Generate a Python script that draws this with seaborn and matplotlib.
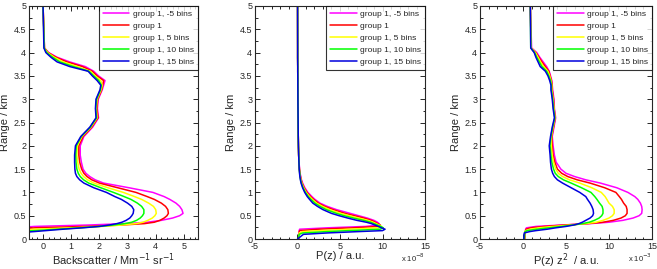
import numpy as np
import pandas as pd
import matplotlib
matplotlib.use('Agg')
import matplotlib.pyplot as plt
import seaborn as sns
from matplotlib.ticker import MultipleLocator, FormatStrFormatter

# range grid (km), shared by every profile
range_km = [0, 0.1, 0.13, 0.16, 0.18, 0.21, 0.24, 0.27, 0.3, 0.33,
            0.36, 0.4, 0.45, 0.5, 0.55, 0.63, 0.7, 0.77, 0.85, 0.91,
            1.0, 1.1, 1.2, 1.27, 1.34, 1.41, 1.5, 1.65, 1.8, 2.0,
            2.2, 2.4, 2.6, 2.8, 3.0, 3.2, 3.3, 3.4, 3.5, 3.6,
            3.7, 3.8, 3.9, 4.0, 4.1, 5.0]

labels = ['group 1, -5 bins', 'group 1', 'group 1, 5 bins', 'group 1, 10 bins', 'group 1, 15 bins']
colors = ['#ff00ff', '#ff0000', '#ffff00', '#00ff00', '#0000dd']

# backscatter, Mm-1 sr-1
bs_m5 = [-1, -1, -1, -1, -1, -1, -1, -0.3, 1.6, 2.9,
         3.7, 4.2, 4.6, 4.85, 4.97, 4.93, 4.85, 4.72, 4.5, 4.3,
         3.9, 3.05, 2.15, 1.85, 1.66, 1.52, 1.42, 1.36, 1.32, 1.32,
         1.45, 1.76, 1.97, 1.93, 1.96, 2.1, 2.15, 2.2, 1.97, 1.8,
         1.5, 0.95, 0.5, 0.2, 0.05, 0.0]
bs_0 = [-1, -1, -1, -1, -1, -1, -0.3, 1.5, 2.8, 3.6,
        3.95, 4.15, 4.3, 4.4, 4.45, 4.43, 4.35, 4.2, 3.95, 3.7,
        3.3, 2.65, 2.0, 1.73, 1.56, 1.45, 1.37, 1.3, 1.27, 1.27,
        1.42, 1.73, 1.95, 1.91, 1.94, 2.08, 2.12, 2.15, 1.92, 1.75,
        1.4, 0.85, 0.46, 0.18, 0.05, 0.0]
bs_5 = [-1, -1, -1, -1, -1, -0.3, 1.0, 2.1, 2.8, 3.3,
        3.55, 3.72, 3.88, 3.97, 4.02, 4.0, 3.92, 3.75, 3.5, 3.25,
        2.85, 2.3, 1.8, 1.58, 1.44, 1.35, 1.28, 1.23, 1.2, 1.22,
        1.38, 1.7, 1.92, 1.89, 1.92, 2.06, 2.1, 2.05, 1.85, 1.68,
        1.22, 0.72, 0.4, 0.16, 0.05, 0.0]
bs_10 = [-1, -1, -1, -1, -0.3, 0.5, 1.3, 2.0, 2.5, 2.9,
         3.15, 3.32, 3.45, 3.53, 3.58, 3.58, 3.5, 3.35, 3.12, 2.88,
         2.5, 2.05, 1.62, 1.44, 1.32, 1.25, 1.2, 1.17, 1.16, 1.18,
         1.36, 1.68, 1.9, 1.87, 1.9, 2.04, 2.07, 1.98, 1.8, 1.63,
         1.08, 0.6, 0.34, 0.13, 0.04, 0.0]
bs_15 = [-1, -1, -1, -0.3, 0.1, 0.7, 1.4, 2.0, 2.35, 2.62,
         2.8, 2.95, 3.08, 3.15, 3.2, 3.22, 3.15, 3.0, 2.78, 2.55,
         2.25, 1.8, 1.45, 1.3, 1.2, 1.15, 1.13, 1.12, 1.12, 1.15,
         1.34, 1.66, 1.88, 1.86, 1.88, 2.02, 2.05, 1.92, 1.75, 1.6,
         0.95, 0.5, 0.28, 0.1, 0.03, 0.0]

# P(z), x 1e-8 a.u.
p_m5 = [0.2, 0.2, 0.2, 0.2, 0.2, 0.25, 3.5, 8.0, 9.5, 9.6,
        9.4, 9.0, 8.2, 7.2, 6.2, 4.6, 3.5, 2.65, 2.05, 1.7,
        1.22, 0.86, 0.6, 0.47, 0.38, 0.31, 0.25, 0.18, 0.14, 0.11,
        0.09, 0.08, 0.07, 0.06, 0.05, 0.045, 0.04, 0.04, 0.035, 0.03,
        0.03, 0.025, 0.02, 0.02, 0.02, 0.01]
p_0 = [0.2, 0.2, 0.2, 0.2, 0.25, 2.5, 6.5, 9.5, 9.75, 9.45,
       9.15, 8.7, 7.8, 6.7, 5.6, 4.2, 3.2, 2.45, 1.9, 1.55,
       1.12, 0.78, 0.55, 0.43, 0.35, 0.29, 0.23, 0.17, 0.14, 0.11,
       0.09, 0.08, 0.07, 0.06, 0.05, 0.045, 0.04, 0.04, 0.035, 0.03,
       0.03, 0.025, 0.02, 0.02, 0.02, 0.01]
p_5 = [0.15, 0.2, 0.2, 0.6, 2.5, 6.0, 9.5, 9.9, 9.6, 9.25,
       8.9, 8.3, 7.2, 6.1, 5.1, 3.8, 2.95, 2.25, 1.75, 1.42,
       1.02, 0.72, 0.5, 0.4, 0.32, 0.27, 0.22, 0.17, 0.14, 0.11,
       0.09, 0.08, 0.07, 0.06, 0.05, 0.045, 0.04, 0.04, 0.035, 0.03,
       0.03, 0.025, 0.02, 0.02, 0.02, 0.01]
p_10 = [0.1, 0.2, 0.6, 3.5, 6.0, 9.7, 10.1, 9.8, 9.4, 9.0,
        8.6, 7.8, 6.6, 5.5, 4.6, 3.4, 2.65, 2.05, 1.58, 1.28,
        0.93, 0.66, 0.46, 0.37, 0.3, 0.26, 0.21, 0.17, 0.14, 0.11,
        0.09, 0.08, 0.07, 0.06, 0.05, 0.045, 0.04, 0.04, 0.035, 0.03,
        0.03, 0.025, 0.02, 0.02, 0.02, 0.01]
p_15 = [0.0, 0.7, 3.5, 7.3, 10.0, 10.3, 9.9, 9.5, 9.1, 8.7,
        8.1, 7.0, 5.9, 4.9, 4.0, 3.0, 2.35, 1.8, 1.42, 1.15,
        0.85, 0.6, 0.42, 0.34, 0.28, 0.24, 0.2, 0.17, 0.14, 0.11,
        0.09, 0.08, 0.07, 0.06, 0.05, 0.045, 0.04, 0.04, 0.035, 0.03,
        0.03, 0.025, 0.02, 0.02, 0.02, 0.01]

# P(z) z^2, x 1e-3 a.u.
pz2_m5 = [0.25, 0.25, 0.25, 0.3, 0.3, 0.3, 0.4, 1.5, 4.5, 7.8,
          10.0, 11.6, 12.8, 13.5, 13.8, 13.85, 13.8, 13.65, 13.35, 13.0,
          12.2, 10.9, 9.0, 7.3, 6.0, 5.0, 4.4, 3.85, 3.65, 3.5,
          3.4, 3.6, 3.8, 3.65, 3.6, 3.45, 3.4, 3.35, 3.2, 3.05,
          2.75, 2.35, 1.95, 1.6, 1.0, 0.85]
pz2_0 = [0.2, 0.2, 0.25, 0.25, 0.3, 0.35, 0.9, 2.5, 4.8, 7.5,
         9.3, 10.5, 11.4, 11.9, 12.1, 12.1, 12.0, 11.7, 11.45, 11.2,
         10.8, 9.5, 7.8, 6.3, 5.2, 4.5, 4.0, 3.7, 3.5, 3.4,
         3.35, 3.55, 3.75, 3.62, 3.55, 3.4, 3.4, 3.3, 3.15, 3.0,
         2.6, 2.2, 1.85, 1.5, 0.95, 0.85]
pz2_5 = [0.2, 0.2, 0.2, 0.25, 0.3, 0.8, 1.8, 3.5, 5.5, 7.3,
         8.5, 9.3, 10.0, 10.4, 10.6, 10.6, 10.4, 10.0, 9.75, 9.55,
         9.1, 8.0, 6.6, 5.4, 4.6, 4.1, 3.8, 3.55, 3.4, 3.3,
         3.3, 3.5, 3.72, 3.6, 3.5, 3.35, 3.35, 3.25, 3.1, 2.9,
         2.4, 2.05, 1.75, 1.45, 0.95, 0.85]
pz2_10 = [0.15, 0.2, 0.2, 0.25, 0.5, 1.6, 3.0, 4.5, 5.8, 6.9,
          7.7, 8.3, 8.85, 9.15, 9.3, 9.3, 9.2, 8.9, 8.6, 8.35,
          7.9, 6.8, 5.6, 4.7, 4.1, 3.75, 3.55, 3.35, 3.25, 3.15,
          3.25, 3.45, 3.7, 3.55, 3.45, 3.3, 3.3, 3.2, 3.0, 2.75,
          2.2, 1.9, 1.6, 1.35, 0.9, 0.85]
pz2_15 = [0.1, 0.12, 0.15, 0.8, 1.5, 2.8, 3.8, 5.0, 5.9, 6.5,
          6.9, 7.3, 7.8, 8.1, 8.2, 8.15, 8.0, 7.8, 7.5, 7.3,
          6.6, 5.6, 4.6, 4.0, 3.65, 3.45, 3.3, 3.2, 3.15, 3.05,
          3.2, 3.4, 3.65, 3.5, 3.4, 3.25, 3.25, 3.1, 2.9, 2.6,
          2.0, 1.75, 1.5, 1.3, 0.9, 0.85]


def long_df(profiles):
    frames = []
    for lab, vals in zip(labels, profiles):
        frames.append(pd.DataFrame({'range': range_km, 'value': vals, 'series': lab}))
    return pd.concat(frames, ignore_index=True)


sns.set_style('ticks')
plt.rcParams['font.family'] = ['Liberation Sans', 'DejaVu Sans']
plt.rcParams['axes.unicode_minus'] = False
plt.rcParams['axes.linewidth'] = 0.8

fig = plt.figure(figsize=(6.57, 2.69), dpi=100)
ax1 = fig.add_axes([0.0441, 0.1115, 0.2572, 0.8662])
ax2 = fig.add_axes([0.3881, 0.1115, 0.2588, 0.8662])
ax3 = fig.add_axes([0.7306, 0.1115, 0.2618, 0.8662])

panels = [
    (ax1, [bs_m5, bs_0, bs_5, bs_10, bs_15], (-0.5, 5.5), 1, 0.2,
     'Backscatter / Mm$^{-1}$ sr$^{-1}$', None),
    (ax2, [p_m5, p_0, p_5, p_10, p_15], (-5, 15), 5, 1, 'P(z) / a.u.', 'x 10$^{-8}$'),
    (ax3, [pz2_m5, pz2_0, pz2_5, pz2_10, pz2_15], (-5, 15), 5, 1,
     'P(z) z$^{2}$  / a.u.', 'x 10$^{-3}$'),
]

for ax, profiles, xlim, major, minor, xlabel, expo in panels:
    df = long_df(profiles)
    sns.lineplot(data=df, x='value', y='range', hue='series', hue_order=labels,
                 palette=colors, sort=False, estimator=None, lw=1.1, ax=ax)
    ax.set_xlim(*xlim)
    ax.set_ylim(0, 5)
    ax.xaxis.set_major_locator(MultipleLocator(major))
    ax.xaxis.set_minor_locator(MultipleLocator(minor))
    ax.yaxis.set_major_locator(MultipleLocator(0.5))
    ax.yaxis.set_minor_locator(MultipleLocator(0.25))
    ax.yaxis.set_major_formatter(FormatStrFormatter('%g'))
    ax.xaxis.set_major_formatter(FormatStrFormatter('%g'))
    ax.tick_params(which='both', direction='in', top=True, right=True, labelsize=6.5, width=0.7, pad=2)
    ax.tick_params(which='major', length=3.5)
    ax.tick_params(which='minor', length=1.8)
    ax.set_xlabel(xlabel, fontsize=8, labelpad=0.5)
    ax.set_ylabel('Range / km', fontsize=8, labelpad=3)
    if expo:
        ax.text(0.86, -0.08, expo, transform=ax.transAxes, fontsize=5.5, va='center')
    leg = ax.legend(loc='upper right', fontsize=6, frameon=True, fancybox=False,
                    edgecolor='black', borderaxespad=0, handlelength=3.2,
                    labelspacing=0.5, borderpad=0.5, handletextpad=0.4)
    leg.get_frame().set_linewidth(0.8)
    for line in leg.get_lines():
        line.set_linewidth(1.1)

fig.savefig('out.png', dpi=100)
